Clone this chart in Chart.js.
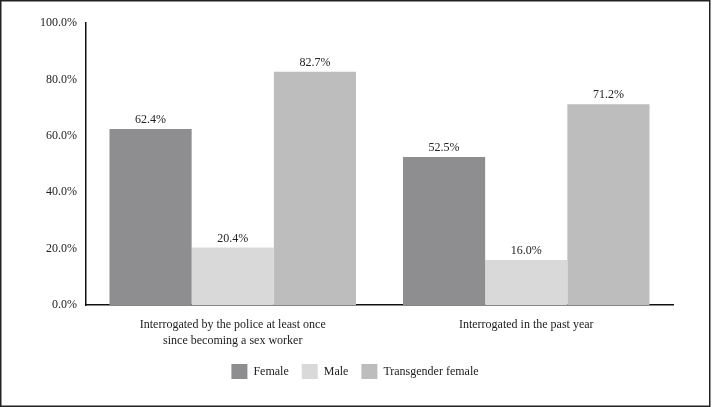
<!DOCTYPE html>
<html>
<head>
<meta charset="utf-8">
<script src="https://cdn.jsdelivr.net/npm/chart.js@4"></script>
<style>
  html, body { margin: 0; padding: 0; background: #fff; }
  #wrap { position: relative; width: 714px; height: 407px; }
</style>
</head>
<body>
<div id="wrap"><canvas id="chart"></canvas></div>
<script>
const categories = [
  ['Interrogated by the police at least once', 'since becoming a sex worker'],
  'Interrogated in the past year'
];
const female = [62.4, 52.5];
const male = [20.4, 16.0];
const transFemale = [82.7, 71.2];
const yTicks = [0, 20, 40, 60, 80, 100];

const serif = 'Liberation Serif, DejaVu Serif, serif';

// value labels over each bar
const barLabels = {
  id: 'barLabels',
  afterDatasetsDraw(chart) {
    const ctx = chart.ctx;
    ctx.save();
    ctx.font = '12px ' + serif;
    ctx.fillStyle = '#222';
    ctx.textAlign = 'center';
    ctx.textBaseline = 'bottom';
    chart.data.datasets.forEach((ds, i) => {
      chart.getDatasetMeta(i).data.forEach((bar, j) => {
        ctx.fillText(ds.data[j].toFixed(1) + '%', bar.x, bar.y - 3);
      });
    });
    ctx.restore();
  }
};

// frame round the whole picture, and nudge the legend to the right
const frame = {
  id: 'frame',
  afterLayout(chart) {
    chart.legend.left = 37;
  },
  afterDraw(chart) {
    const ctx = chart.ctx;
    ctx.save();
    ctx.strokeStyle = '#222';
    ctx.lineWidth = 1.5;
    ctx.strokeRect(0.75, 0.75, 709, 405.5);
    ctx.restore();
  }
};

new Chart(document.getElementById('chart'), {
  type: 'bar',
  data: {
    labels: categories,
    datasets: [
      { label: 'Female', data: female, backgroundColor: '#8e8e90' },
      { label: 'Male', data: male, backgroundColor: '#d9d9da' },
      { label: 'Transgender female', data: transFemale, backgroundColor: '#bdbdbe' }
    ]
  },
  options: {
    responsive: true,
    maintainAspectRatio: false,
    animation: false,
    layout: { padding: { left: 0, right: 41, top: 23, bottom: 18 } },
    datasets: { bar: { categoryPercentage: 0.84, barPercentage: 1 } },
    plugins: {
      legend: {
        position: 'bottom',
        labels: {
          font: { family: serif, size: 12 },
          color: '#222',
          boxWidth: 16,
          boxHeight: 15,
          padding: 13
        }
      },
      tooltip: { enabled: false }
    },
    scales: {
      x: {
        grid: { display: false, drawTicks: false },
        border: { color: '#111', width: 1.5 },
        ticks: {
          font: { family: serif, size: 12, lineHeight: 1.4 },
          color: '#222',
          padding: 11,
          maxRotation: 0
        },
        afterFit(scale) { scale.height = 46; }
      },
      y: {
        min: 0,
        max: 100,
        grid: { display: false, drawTicks: false },
        border: { color: '#111', width: 1.5 },
        afterBuildTicks(scale) { scale.ticks = yTicks.map(v => ({ value: v })); },
        afterFit(scale) { scale.width = 86; },
        ticks: {
          font: { family: serif, size: 12 },
          color: '#222',
          padding: 9,
          callback: v => v.toFixed(1) + '%'
        }
      }
    }
  },
  plugins: [barLabels, frame]
});
</script>
</body>
</html>
